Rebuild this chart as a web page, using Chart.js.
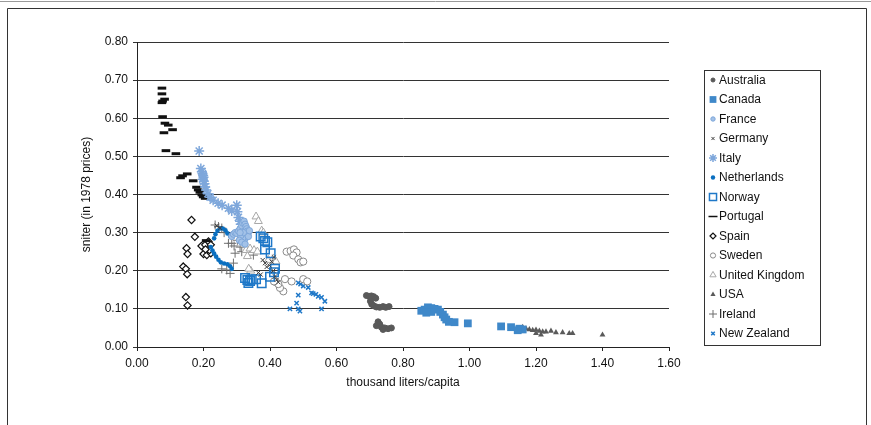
<!DOCTYPE html>
<html>
<head>
<meta charset="utf-8">
<script src="https://cdn.jsdelivr.net/npm/chart.js@4.4.0/dist/chart.umd.min.js"></script>
<style>
  body { margin: 0; background: #fff; }
</style>
</head>
<body>
<canvas id="chart" width="871" height="425"></canvas>
<script>
// values: [thousand liters/capita, sniter]
const australia = [[0.690,0.135],[0.698,0.133],[0.705,0.134],[0.712,0.132],[0.718,0.128],[0.702,0.120],[0.706,0.112],[0.712,0.108],[0.720,0.105],[0.730,0.104],[0.740,0.106],[0.748,0.104],[0.758,0.106],[0.725,0.066],[0.730,0.060],[0.720,0.056],[0.735,0.052],[0.745,0.050],[0.755,0.048],[0.765,0.050],[0.740,0.046]];
const canada = [[0.855,0.095],[0.865,0.098],[0.875,0.104],[0.885,0.102],[0.895,0.100],[0.905,0.098],[0.912,0.092],[0.885,0.092],[0.870,0.090],[0.920,0.085],[0.925,0.078],[0.930,0.072],[0.938,0.066],[0.955,0.065],[0.995,0.062],[1.095,0.054],[1.125,0.052],[1.150,0.048],[1.160,0.046],[1.145,0.044]];
const france = [[0.285,0.290],[0.290,0.296],[0.295,0.300],[0.300,0.298],[0.305,0.304],[0.310,0.310],[0.315,0.318],[0.318,0.325],[0.322,0.330],[0.325,0.322],[0.328,0.316],[0.330,0.310],[0.332,0.304],[0.334,0.298],[0.330,0.292],[0.326,0.286],[0.322,0.280],[0.318,0.285],[0.312,0.292],[0.308,0.280],[0.315,0.275],[0.325,0.270],[0.335,0.290],[0.338,0.305],[0.320,0.300],[0.310,0.300]];
const germany = [[0.365,0.195],[0.372,0.190],[0.378,0.228],[0.385,0.220],[0.390,0.210],[0.398,0.214],[0.405,0.224],[0.410,0.200],[0.415,0.185],[0.420,0.176],[0.425,0.170],[0.240,0.318],[0.250,0.312],[0.412,0.235]];
const italy = [[0.187,0.514],[0.192,0.468],[0.195,0.460],[0.197,0.455],[0.199,0.450],[0.200,0.445],[0.198,0.440],[0.201,0.435],[0.203,0.428],[0.205,0.420],[0.208,0.412],[0.213,0.402],[0.220,0.393],[0.229,0.385],[0.244,0.377],[0.256,0.372],[0.275,0.364],[0.285,0.357],[0.300,0.372],[0.302,0.355],[0.305,0.340],[0.310,0.330],[0.312,0.322]];
const netherlands = [[0.232,0.285],[0.236,0.296],[0.242,0.305],[0.250,0.311],[0.258,0.311],[0.266,0.306],[0.272,0.298],[0.280,0.291],[0.222,0.262],[0.227,0.253],[0.232,0.245],[0.238,0.237],[0.245,0.229],[0.252,0.222],[0.262,0.219],[0.272,0.217],[0.280,0.212],[0.285,0.205]];
const norway = [[0.372,0.290],[0.380,0.285],[0.385,0.278],[0.392,0.275],[0.385,0.256],[0.402,0.246],[0.415,0.205],[0.412,0.196],[0.400,0.184],[0.325,0.181],[0.332,0.176],[0.340,0.173],[0.345,0.178],[0.358,0.178],[0.375,0.167],[0.335,0.168]];
const portugal = [[0.075,0.679],[0.075,0.664],[0.083,0.650],[0.077,0.645],[0.075,0.641],[0.077,0.604],[0.084,0.587],[0.094,0.582],[0.107,0.570],[0.081,0.562],[0.087,0.515],[0.117,0.507],[0.151,0.454],[0.137,0.449],[0.131,0.444],[0.169,0.436],[0.179,0.419],[0.184,0.412],[0.189,0.406],[0.195,0.399],[0.199,0.394],[0.205,0.390],[0.208,0.279]];
const spain = [[0.164,0.333],[0.174,0.289],[0.149,0.259],[0.152,0.244],[0.139,0.211],[0.147,0.205],[0.151,0.191],[0.147,0.131],[0.152,0.109],[0.194,0.265],[0.205,0.268],[0.215,0.277],[0.222,0.268],[0.200,0.244],[0.210,0.241],[0.222,0.246],[0.218,0.254],[0.206,0.256]];
const sweden = [[0.450,0.250],[0.462,0.252],[0.472,0.256],[0.480,0.248],[0.470,0.240],[0.485,0.230],[0.492,0.222],[0.500,0.224],[0.445,0.178],[0.465,0.172],[0.500,0.178],[0.512,0.172],[0.440,0.146],[0.430,0.155],[0.418,0.170],[0.425,0.165],[0.412,0.172]];
const unitedKingdom = [[0.358,0.342],[0.365,0.330],[0.375,0.305],[0.380,0.300],[0.328,0.254],[0.340,0.258],[0.352,0.254],[0.332,0.238],[0.342,0.200],[0.336,0.205],[0.410,0.232],[0.418,0.224],[0.395,0.228],[0.362,0.250]];
const usa = [[1.160,0.052],[1.170,0.048],[1.180,0.046],[1.190,0.044],[1.200,0.045],[1.210,0.042],[1.220,0.040],[1.200,0.036],[1.215,0.032],[1.230,0.040],[1.245,0.042],[1.260,0.038],[1.280,0.038],[1.300,0.036],[1.310,0.036],[1.400,0.032]];
const ireland = [[0.235,0.320],[0.245,0.316],[0.255,0.312],[0.262,0.300],[0.275,0.272],[0.285,0.272],[0.292,0.265],[0.295,0.246],[0.315,0.250],[0.350,0.241],[0.290,0.220],[0.270,0.202],[0.280,0.193],[0.255,0.205],[0.302,0.280],[0.310,0.262]];
const newZealand = [[0.485,0.168],[0.492,0.165],[0.500,0.160],[0.515,0.156],[0.525,0.142],[0.530,0.140],[0.538,0.138],[0.545,0.133],[0.555,0.130],[0.565,0.120],[0.485,0.136],[0.480,0.115],[0.460,0.100],[0.485,0.100],[0.490,0.094],[0.555,0.100]];

const countries = ['Australia','Canada','France','Germany','Italy','Netherlands','Norway','Portugal','Spain','Sweden','United Kingdom','USA','Ireland','New Zealand'];
const seriesValues = [australia, canada, france, germany, italy, netherlands, norway, portugal, spain, sweden, unitedKingdom, usa, ireland, newZealand];
const xTicks = [0, 0.2, 0.4, 0.6, 0.8, 1.0, 1.2, 1.4, 1.6];
const yTicks = [0, 0.1, 0.2, 0.3, 0.4, 0.5, 0.6, 0.7, 0.8];

// marker looks, one per country
const markers = [
  { style: 'circle',   r: 3,   legendR: 2,   fill: '#595959', line: '#595959', w: 1 },
  { style: 'rect',     r: 5.5, legendR: 4.8, fill: '#3f88c9', line: '#3f88c9', w: 0 },
  { style: 'circle',   r: 3.2, legendR: 2.2, fill: '#a3c2e8', line: '#7ea7da', w: 1 },
  { style: 'crossRot', r: 3,   legendR: 2.2, fill: '#404040', line: '#404040', w: 1 },
  { style: 'star',     r: 5,   legendR: 4,   fill: '#7ea7db', line: '#7ea7db', w: 1.5 },
  { style: 'circle',   r: 2.3, legendR: 2.2, fill: '#0a6fc0', line: '#0a6fc0', w: 0 },
  { style: 'rect',     r: 6,   legendR: 5,   fill: 'rgba(255,255,255,0)', line: '#1f78c8', w: 1.5 },
  { style: 'line',     r: 4.3, legendR: 4.5, fill: '#111', line: '#111', w: 3 },
  { style: 'rectRot',  r: 3.6, legendR: 3,   fill: '#fff', line: '#111', w: 1.2 },
  { style: 'circle',   r: 3.6, legendR: 2.6, fill: '#fff', line: '#8a8a8a', w: 1 },
  { style: 'triangle', r: 4.6, legendR: 3.6, fill: '#fff', line: '#a8a8a8', w: 1 },
  { style: 'triangle', r: 3.4, legendR: 3,   fill: '#5a5a5a', line: '#5a5a5a', w: 0 },
  { style: 'cross',    r: 4.5, legendR: 4,   fill: '#6f6f6f', line: '#6f6f6f', w: 1 },
  { style: 'crossRot', r: 3,   legendR: 2.5, fill: '#1f78c8', line: '#1f78c8', w: 1.5 }
];

const FONT = '"Liberation Sans", Arial, sans-serif';

const datasets = countries.map((name, i) => ({
  label: name,
  data: seriesValues[i].map(p => ({ x: p[0], y: p[1] })),
  pointStyle: markers[i].style,
  pointRadius: markers[i].r,
  backgroundColor: markers[i].fill,
  borderColor: markers[i].line,
  borderWidth: markers[i].w,
  pointHoverRadius: markers[i].r
}));

// page frame
const frame = {
  id: 'frame',
  beforeDraw(chart) {
    const ctx = chart.ctx;
    ctx.save();
    ctx.fillStyle = '#fff';
    ctx.fillRect(0, 0, chart.width, chart.height);
    ctx.strokeStyle = '#9a9a9a';
    ctx.lineWidth = 1;
    ctx.beginPath();
    ctx.moveTo(0, 1.5); ctx.lineTo(871, 1.5);
    ctx.stroke();
    ctx.strokeStyle = '#333';
    ctx.beginPath();
    ctx.moveTo(7.5, 425); ctx.lineTo(7.5, 8.5); ctx.lineTo(866.5, 8.5); ctx.lineTo(866.5, 425);
    ctx.stroke();
    ctx.restore();
  }
};

// boxed legend on the right
const boxLegend = {
  id: 'boxLegend',
  afterDraw(chart) {
    const ctx = chart.ctx;
    ctx.save();
    ctx.strokeStyle = '#333';
    ctx.lineWidth = 1;
    ctx.strokeRect(704.5, 70.5, 116, 275);
    ctx.font = '12px ' + FONT;
    ctx.textBaseline = 'middle';
    chart.data.datasets.forEach((ds, i) => {
      const y = 80 + i * 19.5;
      ctx.fillStyle = ds.backgroundColor;
      ctx.strokeStyle = ds.borderColor;
      ctx.lineWidth = Math.min(ds.borderWidth, 1.5);
      Chart.helpers.drawPoint(ctx, {
        pointStyle: ds.pointStyle, radius: markers[i].legendR, rotation: 0, borderWidth: ds.borderWidth
      }, 713, y);
      ctx.fillStyle = '#111';
      ctx.fillText(ds.label, 719, y + 0.5);
    });
    ctx.restore();
  }
};

new Chart(document.getElementById('chart'), {
  type: 'scatter',
  data: { datasets: datasets },
  plugins: [frame, boxLegend],
  options: {
    responsive: false,
    animation: false,
    devicePixelRatio: 1,
    layout: { padding: { top: 42, right: 202, bottom: 0, left: 0 } },
    plugins: {
      legend: { display: false },
      tooltip: { enabled: false }
    },
    scales: {
      x: {
        type: 'linear',
        min: 0,
        max: 1.6,
        afterFit: s => { s.height = 78; },
        afterBuildTicks: s => { s.ticks = xTicks.map(v => ({ value: v })); },
        ticks: {
          color: '#111',
          font: { family: FONT, size: 12 },
          padding: 5,
          callback: v => Number(v).toFixed(2)
        },
        grid: { drawOnChartArea: false, drawTicks: true, tickLength: 4, color: '#222' },
        border: { display: true, color: '#222', width: 1 },
        title: {
          display: true,
          text: 'thousand liters/capita',
          color: '#111',
          font: { family: FONT, size: 12 },
          padding: { top: 0, bottom: 35 }
        }
      },
      y: {
        type: 'linear',
        min: 0,
        max: 0.8,
        afterFit: s => { s.width = 137; },
        afterBuildTicks: s => { s.ticks = yTicks.map(v => ({ value: v })); },
        ticks: {
          color: '#111',
          font: { family: FONT, size: 12 },
          padding: 5,
          callback: v => Number(v).toFixed(2)
        },
        grid: { color: '#333', lineWidth: 1, drawTicks: true, tickLength: 4 },
        border: { display: true, color: '#222', width: 1 },
        title: {
          display: true,
          text: 'sniter (in 1978 prices)',
          color: '#111',
          font: { family: FONT, size: 12 },
          padding: { top: 79, bottom: 0 }
        }
      }
    }
  }
});
</script>
</body>
</html>
